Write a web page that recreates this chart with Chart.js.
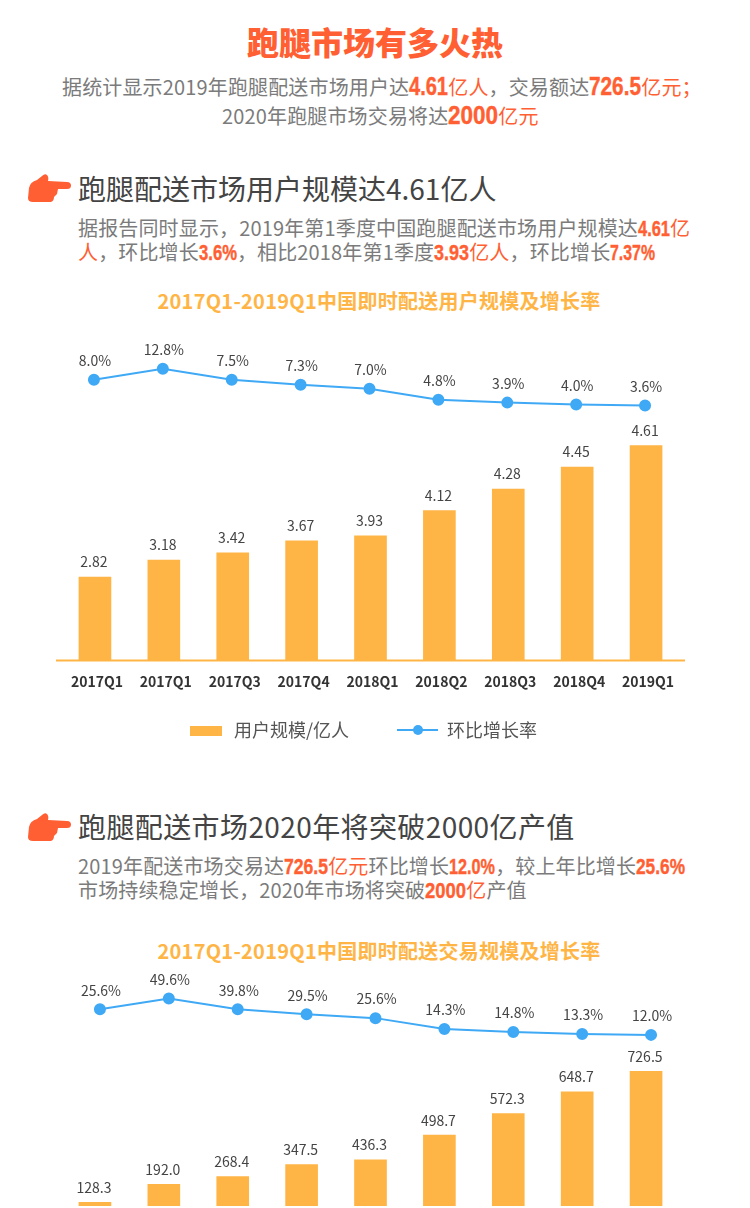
<!DOCTYPE html>
<html lang="zh-CN"><head><meta charset="utf-8">
<script src="https://cdn.jsdelivr.net/npm/chart.js@4"></script>
<style>
html,body{margin:0;padding:0;background:#fff}
#page{position:relative;width:750px;height:1208px;overflow:hidden;font-family:"Noto Sans CJK SC","Noto Sans",sans-serif;color:#7b7b7b}
.t{position:absolute;white-space:nowrap;transform:translateY(-50%);line-height:1.2}
.main{left:0;width:750px;text-align:center;font-size:32px;font-weight:900;color:#ff5f33;top:41px}
.body{font-size:20px;letter-spacing:.15px}
.head{left:78px;font-size:28px;color:#444}
.ct{left:4px;width:750px;text-align:center;font-size:20px;font-weight:700;color:#ffb545;letter-spacing:.25px}
.r{color:#ff5f33}
.n{display:inline-block;transform-origin:0 50%;color:#ff5f33;font-family:"Liberation Sans",sans-serif;font-weight:700;font-size:22px;line-height:20px;letter-spacing:0;-webkit-text-stroke:.4px #ff5f33}
.big{font-size:25px}
canvas{position:absolute;left:0}
svg{position:absolute;left:27px}
</style></head><body>
<div id="page">
<div class="t main">跑腿市场有多火热</div>
<div class="t body" style="left:62px;top:87px">据统计显示2019年跑腿配送市场用户达<span class="n big" data-w="39">4.61</span><span class="r">亿人</span>，交易额达<span class="n big" data-w="52">726.5</span><span class="r">亿元；</span></div>
<div class="t body" style="left:222px;top:116px">2020年跑腿市场交易将达<span class="n big" data-w="50">2000</span><span class="r">亿元</span></div>

<svg width="46" height="32" style="top:172px"><path fill="#ff5f33" d="M2 16Q3 10 10 8L15 4Q18 1 20 3Q22 5 21 9L40 10Q44 10 44 13.5Q44 17 40 17L31 17L30 22Q28 24 27 25Q27 29 24 30L6 30Q1 30 1 26Z"/></svg>
<div class="t head" style="top:189px">跑腿配送市场用户规模达4.61亿人</div>
<div class="t body" style="left:78px;top:228px">据报告同时显示，2019年第1季度中国跑腿配送市场用户规模达<span class="n" data-w="32">4.61</span><span class="r">亿</span></div>
<div class="t body" style="left:78px;top:252px"><span class="r">人</span>，环比增长<span class="n" data-w="38">3.6%</span>，相比2018年第1季度<span class="n" data-w="35">3.93</span><span class="r">亿人</span>，环比增长<span class="n" data-w="45">7.37%</span></div>
<div class="t ct" style="top:301px">2017Q1-2019Q1中国即时配送用户规模及增长率</div>
<canvas id="c1" width="750" height="425" style="top:335px"></canvas>

<svg width="46" height="32" style="top:811px"><path fill="#ff5f33" d="M2 16Q3 10 10 8L15 4Q18 1 20 3Q22 5 21 9L40 10Q44 10 44 13.5Q44 17 40 17L31 17L30 22Q28 24 27 25Q27 29 24 30L6 30Q1 30 1 26Z"/></svg>
<div class="t head" style="top:827px;letter-spacing:.4px">跑腿配送市场2020年将突破2000亿产值</div>
<div class="t body" style="left:78px;top:866px">2019年配送市场交易达<span class="n" data-w="44">726.5</span><span class="r">亿元</span>环比增长<span class="n" data-w="46">12.0%</span>，较上年比增长<span class="n" data-w="49">25.6%</span></div>
<div class="t body" style="left:78px;top:890px">市场持续稳定增长，2020年市场将突破<span class="n" data-w="41">2000</span><span class="r">亿</span>产值</div>
<div class="t ct" style="top:951px">2017Q1-2019Q1中国即时配送交易规模及增长率</div>
<canvas id="c2" width="750" height="252" style="top:961px"></canvas>
</div>
<script>
// Condense the highlighted numbers horizontally; the narrow bold face is not installed.
document.querySelectorAll('.n').forEach(el => {
  const w = el.getBoundingClientRect().width, target = +el.dataset.w;
  el.style.transform = 'scaleX(' + (target / w) + ')';
  el.style.marginRight = (target - w) + 'px';
});

// Category labels exactly as printed in the reference (including the repeated 2017Q1).
const quarters = ['2017Q1','2017Q1','2017Q3','2017Q4','2018Q1','2018Q2','2018Q3','2018Q4','2019Q1'];

// Printed numbers.
const userLabels = ['2.82','3.18','3.42','3.67','3.93','4.12','4.28','4.45','4.61'];
const userRateLabels = ['8.0%','12.8%','7.5%','7.3%','7.0%','4.8%','3.9%','4.0%','3.6%'];
const tradeLabels = ['128.3','192.0','268.4','347.5','436.3','498.7','572.3','648.7','726.5'];
const tradeRateLabels = ['25.6%','49.6%','39.8%','29.5%','25.6%','14.3%','14.8%','13.3%','12.0%'];

// The reference's marks are not proportional to its printed numbers, so the
// drawn levels are read separately off the picture's bars and line.
const userBars = [2.82,3.05,3.15,3.31,3.38,3.72,4.01,4.31,4.60];
const userRateLine = [10.05,12.8,10.05,8.8,7.8,5.05,4.3,3.8,3.55];
const tradeBars = [128.3,210,246,300,322,435,534,633,727];
const tradeRateLine = [38.4,49.6,38.4,33.3,29.3,18.1,15.0,13.0,12.0];

const ORANGE = '#ffb545', BLUE = '#3fa9f5', FONT = '"Noto Sans CJK SC","Noto Sans",sans-serif';

const marks = {
  id: 'marks',
  beforeDatasetDraw(chart, args, o) {
    if (chart.data.datasets[args.index].type === 'line') { chart.ctx.save(); chart.ctx.translate(o.lineShift, 0); }
  },
  afterDatasetDraw(chart, args) {
    if (chart.data.datasets[args.index].type === 'line') chart.ctx.restore();
  },
  afterDatasetsDraw(chart, _, o) {
    const c = chart.ctx; c.save();
    c.textAlign = 'center'; c.textBaseline = 'middle';
    c.font = '14px ' + FONT; c.fillStyle = '#444';
    chart.getDatasetMeta(0).data.forEach((b, i) => c.fillText(o.barLabels[i], b.x - 1, b.y - 15));
    chart.getDatasetMeta(1).data.forEach((p, i) => c.fillText(o.lineLabels[i], p.x + o.lineShift + 1, p.y - 19));
    const a = chart.chartArea;
    if (o.baseline) {
      c.strokeStyle = ORANGE; c.lineWidth = 2; c.beginPath();
      c.moveTo(a.left - 4.5, a.bottom + 0.5); c.lineTo(a.right + 4.5, a.bottom + 0.5); c.stroke();
    }
    if (o.legend) {
      const y = 395, ds = chart.data.datasets;
      c.textAlign = 'left'; c.font = '18px ' + FONT; c.fillStyle = '#555';
      c.fillText(ds[0].label, 234, y);
      c.fillText(ds[1].label, 447, y);
      c.fillStyle = ORANGE; c.fillRect(190, y - 4, 32, 10);
      c.strokeStyle = BLUE; c.lineWidth = 2; c.beginPath(); c.moveTo(397, y); c.lineTo(438, y); c.stroke();
      c.fillStyle = BLUE; c.beginPath(); c.arc(418, y, 5, 0, 7); c.fill();
    }
    c.restore();
  }
};

function build(id, barData, lineData, barName, lineName, barLabels, lineLabels, yr, y2r, lineShift, full) {
  new Chart(document.getElementById(id), {
    type: 'bar',
    plugins: [marks],
    data: { labels: quarters, datasets: [
      { type: 'bar', label: barName, data: barData, backgroundColor: ORANGE, barThickness: 32, yAxisID: 'y', order: 2 },
      { type: 'line', label: lineName, data: lineData, borderColor: BLUE, borderWidth: 2, pointRadius: 5,
        pointBackgroundColor: BLUE, pointBorderColor: BLUE, tension: 0, yAxisID: 'y2', order: 1 }
    ]},
    options: {
      responsive: false, animation: false,
      layout: { padding: { left: 60.5, right: 69.5, top: 0, bottom: full ? 60 : 0 } },
      plugins: { legend: { display: false }, title: { display: false }, tooltip: { enabled: false },
        marks: { barLabels, lineLabels, lineShift, baseline: full, legend: full } },
      scales: {
        x: { display: full, offset: true, grid: { display: false }, border: { display: false },
          afterFit(s) { if (full) s.height = 40; },
          ticks: { color: '#333', padding: 5, labelOffset: 2, maxRotation: 0, autoSkip: false, font: { family: FONT, size: 14, weight: '700' } } },
        y: { display: false, min: yr[0], max: yr[1] },
        y2: { display: false, min: y2r[0], max: y2r[1] }
      }
    }
  });
}

build('c1', userBars, userRateLine, '用户规模/亿人', '环比增长率', userLabels, userRateLabels, [1.7, 6.0], [-60.45, 19.55], -1, true);
build('c2', tradeBars, tradeRateLine, '交易规模/亿元', '环比增长率', tradeLabels, tradeRateLabels, [111, 1200], [-164.8, 81.1], 5, false);
</script>
</body></html>
